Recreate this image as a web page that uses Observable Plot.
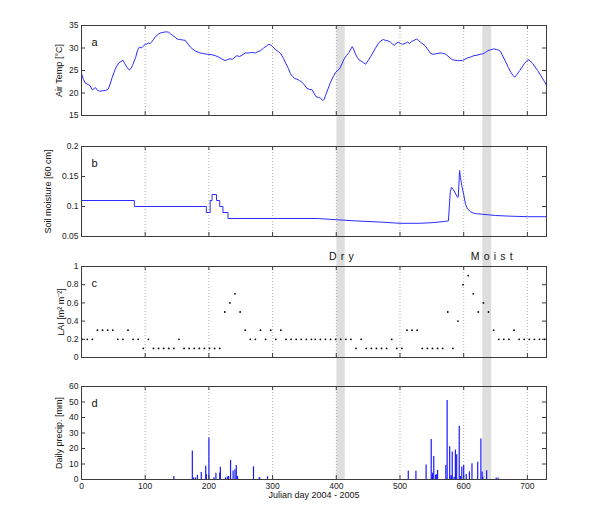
<!DOCTYPE html>
<html><head><meta charset="utf-8">
<script src="https://cdn.jsdelivr.net/npm/d3@7"></script>
<script src="https://cdn.jsdelivr.net/npm/@observablehq/plot@0.6"></script>
<style>
html,body{margin:0;padding:0;background:#fff;}
#chart{position:relative;width:600px;height:506px;overflow:hidden;font-family:"Liberation Sans",Arial,sans-serif;}
#chart svg{position:absolute;left:0;top:0;}
</style></head><body><div id="chart"></div>
<script>
// ---- data ----
const tempDays = [0,3,6,10,13,17,20,22,25,28,34,38,42,45,48,53,58,62,65,68,71,75,78,80,85,88,91,94,96,100,103,105,108,110,113,116,121,125,129,133,137,140,143,147,150,154,158,163,167,171,175,179,183,186,190,194,198,205,210,215,220,225,229,233,237,241,244,248,252,257,262,267,273,277,281,286,291,294,297,300,304,309,313,317,321,325,328,332,335,338,342,346,350,354,358,362,365,368,372,375,379,381,383,387,391,395,399,402,405,409,412,416,420,423,425,427,430,433,436,440,443,446,450,454,458,462,466,470,474,477,481,485,488,491,494,497,501,504,508,512,515,518,522,526,529,532,536,540,544,548,552,556,560,564,568,572,577,582,586,590,594,598,602,606,611,616,621,626,630,634,638,642,647,651,655,658,662,666,670,674,678,680,684,688,692,695,698,701,704,708,712,716,720,724,727,730];
const tempValues = [24.3,23.0,22.2,21.9,21.7,20.7,21.0,21.2,20.6,20.4,20.5,20.6,20.9,22.0,23.4,25.3,26.6,27.0,27.3,26.5,25.8,25.1,25.5,26.1,27.9,29.5,30.2,30.0,30.3,30.8,30.9,31.1,31.0,31.3,31.9,32.5,33.1,33.4,33.5,33.6,33.5,33.1,32.8,32.4,32.0,31.9,31.8,31.7,30.9,30.2,29.7,29.3,29.1,28.9,28.8,28.7,28.6,28.5,28.3,28.0,27.6,27.2,27.4,27.6,27.5,28.0,28.3,28.1,28.4,28.9,28.9,29.0,28.9,29.2,29.4,30.0,30.5,30.8,30.7,30.3,29.7,29.2,28.7,27.7,26.5,25.4,24.3,23.6,23.2,23.1,22.8,22.4,21.8,21.0,20.8,20.7,20.0,19.2,19.0,18.9,18.3,18.6,19.4,20.9,22.4,23.6,24.6,25.0,25.3,26.5,27.5,28.3,29.0,29.8,30.3,29.8,28.7,27.9,27.3,27.0,26.7,26.4,27.2,28.1,29.1,30.1,31.0,31.6,31.9,31.7,31.6,31.3,30.9,30.6,31.0,31.3,31.0,30.8,31.0,31.3,31.0,31.4,31.7,32.0,31.7,31.3,30.9,30.4,29.6,28.8,28.6,28.7,28.8,28.9,28.8,28.6,28.0,27.4,27.3,27.2,27.2,27.2,27.5,27.8,28.0,28.3,28.4,28.6,28.7,29.0,29.4,29.6,29.8,29.7,29.5,29.2,28.0,26.9,25.7,24.6,23.8,23.5,24.2,25.0,25.8,26.5,27.0,27.4,27.2,26.6,25.8,25.0,24.1,23.2,22.5,21.7];

const soilDays = [0,83,83,196,196,202,202,205,205,212,212,217,217,222,222,230,230,370,400,430,470,500,530,550,570,576,579,581,584,588,590.5,591.5,593.5,595,597,600,603,606,611,615,620,630,640,650,670,700,730];
const soilValues = [0.11,0.11,0.10,0.10,0.09,0.09,0.11,0.11,0.12,0.12,0.11,0.11,0.10,0.10,0.09,0.09,0.08,0.08,0.078,0.076,0.074,0.072,0.072,0.073,0.075,0.076,0.125,0.132,0.128,0.12,0.115,0.116,0.160,0.148,0.135,0.12,0.103,0.096,0.091,0.089,0.088,0.087,0.086,0.085,0.084,0.083,0.083];

const laiDays = [1,9,17,25,33,41,49,57,65,73,81,89,97,105,113,121,129,137,145,153,161,169,177,185,193,201,209,217,225,233,241,249,257,265,273,281,289,297,305,313,321,329,337,345,353,361,
  367,375,383,391,399,407,415,423,431,439,447,455,463,471,479,487,495,503,511,519,527,535,543,551,559,567,575,583,591,599,607,615,623,631,639,647,655,663,671,679,687,695,703,711,719,727];
const laiValues = [0.2,0.2,0.2,0.3,0.3,0.3,0.3,0.2,0.2,0.3,0.2,0.2,0.1,0.2,0.1,0.1,0.1,0.1,0.1,0.2,0.1,0.1,0.1,0.1,0.1,0.1,0.1,0.1,0.5,0.6,0.7,0.5,0.3,0.2,0.2,0.3,0.2,0.3,0.2,0.3,0.2,0.2,0.2,0.2,0.2,0.2,
  0.2,0.2,0.2,0.2,0.2,0.2,0.2,0.2,0.1,0.2,0.1,0.1,0.1,0.1,0.1,0.2,0.1,0.1,0.3,0.3,0.3,0.1,0.1,0.1,0.1,0.1,0.5,0.1,0.4,0.8,0.9,0.7,0.5,0.6,0.5,0.3,0.2,0.2,0.2,0.3,0.2,0.2,0.2,0.2,0.2,0.2];

const precipDays = [145,174,176,179,182,188,195,196,200,208,211,217,218,226,229,231,234,238,241,243,245,270,279,280,292,513,525,541,549,550,551,553,556,557,559,572,574,578,580,581,582,585,587,589,593,595,597,600,604,609,613,622,627,629,630,636,651,654];
const precipValues = [2,18.4,1,1,2.7,4.5,8.6,3.3,26.8,1.2,4,4.2,7.9,1.1,1.6,2,12.3,5.5,6.3,9.1,2,8.2,1.2,1,1.8,5.5,5.3,9.4,25.8,1.5,4.1,14.9,2.6,3.2,5.9,9.1,51,21.2,2.6,2,17.7,1.5,19,16,34.3,2,8,9.1,3.2,4.9,10.2,11.2,26.2,4.8,1.5,5.7,1,1];

const bandStarts = [401, 630];
const bandEnds = [414, 644];
const bandLabels = ["Dry", "Moist"];
const bandLabelDays = [408, 644];

const xTicks = [0,100,200,300,400,500,600,700];
const tempTicks = [15,20,25,30,35];
const soilTicks = [0.05,0.1,0.15,0.2];
const laiTicks = [0,0.2,0.4,0.6,0.8,1];
const precipTicks = [0,10,20,30,40,50,60];

const yLabels = ["Air Temp [°C]", "Soil moisture [60 cm]", "LAI [m² m⁻²]", "Daily precip. [mm]"];
const panelLetters = ["a","b","c","d"];
const xLabel = "Julian day 2004 - 2005";

// ---- layout ----
const W = 600, H = 506, ML = 81, MR = 54;
const FW = W - ML - MR;
const panels = [
  {top: 25, bottom: 115},
  {top: 146, bottom: 236},
  {top: 266, bottom: 357},
  {top: 386, bottom: 479}
];
const FRAME = "#3c3c3c";
const FONT = "Liberation Sans, Arial, sans-serif";

const bands = bandStarts.map((s, i) => ({x1: s, x2: bandEnds[i]}));
const temp = tempDays.map((d, i) => ({day: d, v: tempValues[i]}));
const soil = soilDays.map((d, i) => ({day: d, v: soilValues[i]}));
const lai = laiDays.map((d, i) => ({day: d, v: laiValues[i]}));
const precip = precipDays.map((d, i) => ({day: d, v: precipValues[i]}));

function fmt(v) { return String(+v.toFixed(2)); }

function makePanel(idx, yDomain, yTicks, dataMarks, labelDx, extra = []) {
  const p = panels[idx];
  const FH = p.bottom - p.top;
  const gap = idx < 3 ? panels[idx + 1].top - p.bottom : 0;
  const marks = [
    Plot.rect(bands, {x1: "x1", x2: "x2", fill: "#dedede", insetBottom: -gap}),
    Plot.ruleX(xTicks.filter(t => t > 0), {x: d => d, stroke: "#9a9a9a", strokeDasharray: "1,2", strokeWidth: 0.8}),
    ...dataMarks,
    Plot.tickY(yTicks, {y: d => d, insetRight: FW - 4, stroke: FRAME}),
    Plot.tickY(yTicks, {y: d => d, insetLeft: FW - 4, stroke: FRAME}),
    Plot.tickX(xTicks, {x: d => d, insetTop: FH - 4, stroke: FRAME}),
    Plot.tickX(xTicks, {x: d => d, insetBottom: FH - 4, stroke: FRAME}),
    Plot.frame({stroke: FRAME, strokeWidth: 1}),
    Plot.text(yTicks, {y: d => d, text: d => fmt(d), frameAnchor: "left", dx: -3, textAnchor: "end", fontSize: 8.5, fill: "#222"}),
    Plot.text([panelLetters[idx]], {frameAnchor: "top-left", dx: 10, dy: 13, fontSize: 11, textAnchor: "start", fill: "#111"}),
    Plot.text([yLabels[idx]], {frameAnchor: "left", rotate: -90, dx: labelDx, textAnchor: "middle", fontSize: 9, fill: "#111"}),
    ...extra
  ];
  const svg = Plot.plot({
    width: W, height: H,
    marginLeft: ML, marginRight: MR, marginTop: p.top, marginBottom: H - p.bottom,
    x: {domain: [0, 730], axis: null},
    y: {domain: yDomain, axis: null},
    style: {background: "transparent", fontFamily: FONT, overflow: "visible"},
    marks
  });
  document.getElementById("chart").appendChild(svg);
}

makePanel(0, [15, 35], tempTicks, [
  Plot.line(temp, {x: "day", y: "v", stroke: "#2b2bff", strokeWidth: 1})
], -22);

makePanel(1, [0.05, 0.2], soilTicks, [
  Plot.line(soil, {x: "day", y: "v", stroke: "#2b2bff", strokeWidth: 1})
], -33);

makePanel(2, [0, 1], laiTicks, [
  Plot.dot(lai, {x: "day", y: "v", r: 0.9, fill: "#000", stroke: null})
], -20, [
  Plot.text(bandLabels, {x: (d, i) => bandLabelDays[i], frameAnchor: "top", dy: -14, text: d => d.split("").join("\u2009\u2009"), fontSize: 10.5, fill: "#111"})
]);

makePanel(3, [0, 60], precipTicks, [
  Plot.ruleX(precip, {x: "day", y1: 0, y2: "v", stroke: "#1a1aff", strokeWidth: 1.2})
], -22, [
  Plot.text(xTicks, {x: d => d, text: d => String(d), frameAnchor: "bottom", dy: 9, fontSize: 8.5, fill: "#222"}),
  Plot.text([xLabel], {frameAnchor: "bottom", dy: 18, fontSize: 9, fill: "#111"})
]);
</script>
</body></html>
